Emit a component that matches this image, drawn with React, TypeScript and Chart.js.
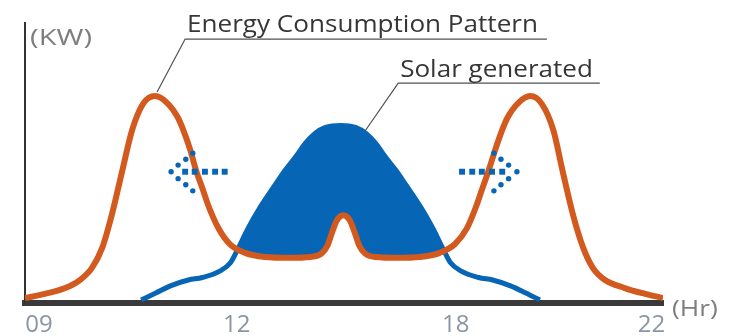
import React, { useEffect, useRef } from 'react';
import { Chart, registerables } from 'chart.js';

Chart.register(...registerables);

// ---- axis ticks (schematic time axis, 0..100 along the axis) ----
const xTickPositions = [2.2, 33.2, 67.5, 98.2];
const xTickLabels = ['09', '12', '18', '22'];

// ---- Energy consumption pattern ----
const consumptionX = [0, 3.1, 6.3, 8.6, 10.5, 12.1, 13.6, 15.2, 16.8, 18.5, 20.4, 22.3, 24.0, 24.8, 25.9, 26.8, 27.9, 28.7, 30.3, 32.1, 34.5, 37.6, 41.5, 44.7, 46.5, 47.4, 48.1, 48.8, 49.4, 49.9, 50.4, 51.0, 51.7, 52.4, 53.3, 55.0, 58.2, 61.9, 65.0, 67.4, 69.3, 70.8, 71.6, 72.7, 73.7, 74.8, 75.6, 77.3, 79.2, 81.0, 82.8, 84.3, 85.9, 87.5, 89.0, 90.9, 94.0, 97.2, 100];
const consumptionY = [0.7, 2.2, 4.3, 7.2, 11.6, 18.8, 30.7, 46.2, 61.4, 70.8, 73.6, 71.1, 65.7, 61.4, 54.2, 46.9, 39.7, 34.3, 26.0, 20.2, 17.0, 15.5, 15.2, 15.5, 16.8, 19.6, 24.2, 28.4, 30.2, 30.6, 30.2, 28.4, 24.2, 19.6, 16.8, 15.5, 15.2, 15.5, 17.0, 20.2, 26.0, 34.3, 39.7, 46.9, 54.2, 61.4, 65.7, 71.1, 73.6, 70.8, 61.4, 46.2, 30.7, 18.8, 11.6, 7.2, 4.3, 2.2, 0.7];

// ---- Solar generated ----
const solarX = [18.2, 20.5, 22.8, 25.6, 27.8, 30.6, 32.2, 33.3, 35.0, 36.9, 39.3, 40.8, 42.4, 44.0, 45.5, 47.1, 49.5, 51.8, 53.4, 54.9, 56.5, 58.1, 59.6, 62.0, 63.9, 65.6, 66.7, 68.3, 71.1, 73.3, 76.1, 78.5, 80.7];
const solarY = [0, 2.5, 5.1, 7.2, 8.1, 10.5, 13.4, 18.1, 26.0, 33.6, 41.9, 46.9, 51.6, 56.7, 60.2, 62.3, 63.0, 62.3, 60.2, 56.7, 51.6, 46.9, 41.9, 33.6, 26.0, 18.1, 13.4, 10.5, 8.1, 7.2, 5.1, 2.5, 0];

// ---- dotted shift arrows ----
const arrowShaftX = [25.1, 26.6, 28.2, 29.8, 31.3, 68.5, 70.1, 71.6, 73.2, 74.8];
const arrowShaftY = [46.3, 46.3, 46.3, 46.3, 46.3, 46.3, 46.3, 46.3, 46.3, 46.3];
const arrowHeadX = [22.9, 24.0, 25.2, 26.3, 24.0, 25.2, 26.3, 77.1, 75.8, 74.6, 73.5, 75.8, 74.6, 73.5];
const arrowHeadY = [46.3, 48.7, 50.8, 53.0, 43.8, 41.6, 39.4, 46.3, 48.7, 50.8, 53.0, 43.8, 41.6, 39.4];

// ---- callouts ----
const calloutTexts = ['Energy Consumption Pattern', 'Solar generated'];
const calloutTextX1 = [25.4, 58.8];
const calloutTextX2 = [80.4, 89.0];
const calloutTextY = [96.8, 80.5];
const calloutLineX1 = [25.1, 58.5];
const calloutLineX2 = [81.8, 90.1];
const calloutLineY = [94.2, 78.3];
const calloutPointX = [20.7, 53.3];
const calloutPointY = [75.1, 61.0];

const ORANGE = '#D35A1E';
const BLUE = '#0665B5';
const FONT = "'Open Sans', 'Noto Sans', sans-serif";

const zip = (xs: number[], ys: number[]) => xs.map((x, i) => ({ x, y: ys[i] }));

function drawFitted(ctx: CanvasRenderingContext2D, text: string, x1: number, x2: number, baseline: number, font: string, color: string) {
  ctx.save();
  ctx.font = font;
  const w = ctx.measureText(text).width;
  ctx.translate(x1, baseline);
  ctx.scale((x2 - x1) / w, 1);
  ctx.fillStyle = color;
  ctx.textBaseline = 'alphabetic';
  ctx.textAlign = 'left';
  ctx.fillText(text, 0, 0);
  ctx.restore();
}

const calloutPlugin = {
  id: 'callouts',
  afterDraw(chart: any) {
    const { ctx, scales } = chart;
    const x = scales.x;
    const y = scales.y;
    ctx.save();
    calloutTexts.forEach((t, i) => {
      const lx1 = x.getPixelForValue(calloutLineX1[i]);
      const lx2 = x.getPixelForValue(calloutLineX2[i]);
      const ly = y.getPixelForValue(calloutLineY[i]);
      const px = x.getPixelForValue(calloutPointX[i]);
      const py = y.getPixelForValue(calloutPointY[i]);
      ctx.strokeStyle = '#505050';
      ctx.lineWidth = 1.2;
      ctx.beginPath();
      ctx.moveTo(lx2, ly);
      ctx.lineTo(lx1, ly);
      ctx.lineTo(px, py);
      ctx.stroke();
      drawFitted(ctx, t, x.getPixelForValue(calloutTextX1[i]), x.getPixelForValue(calloutTextX2[i]), y.getPixelForValue(calloutTextY[i]), `23px ${FONT}`, '#363636');
    });
    // unit labels
    drawFitted(ctx, '(KW)', x.getPixelForValue(0.8), x.getPixelForValue(10.5), y.getPixelForValue(92.1), `22px ${FONT}`, '#7e7e7e');
    drawFitted(ctx, '(Hr)', x.getPixelForValue(101.4), x.getPixelForValue(108.6), y.getPixelForValue(-5.8), `22px ${FONT}`, '#7e7e7e');
    ctx.restore();
  },
};

export default function App() {
  const ref = useRef<HTMLCanvasElement>(null);
  useEffect(() => {
    if (!ref.current) return;
    const chart = new Chart(ref.current, {
      type: 'line',
      data: {
        datasets: [
          {
            label: 'arrow shaft',
            data: zip(arrowShaftX, arrowShaftY),
            showLine: false,
            pointStyle: 'rect',
            pointRadius: 4.2,
            pointBorderWidth: 0,
            pointBackgroundColor: BLUE,
            order: 0,
          },
          {
            label: 'arrow head',
            data: zip(arrowHeadX, arrowHeadY),
            showLine: false,
            pointStyle: 'circle',
            pointRadius: 2.7,
            pointBorderWidth: 0,
            pointBackgroundColor: BLUE,
            order: 0,
          },
          {
            label: 'Energy Consumption Pattern',
            data: zip(consumptionX, consumptionY),
            borderColor: ORANGE,
            borderWidth: 6,
            pointRadius: 0,
            cubicInterpolationMode: 'monotone',
            fill: false,
            order: 1,
          },
          {
            label: 'Solar generated',
            data: zip(solarX, solarY),
            borderColor: BLUE,
            borderWidth: 5,
            pointRadius: 0,
            cubicInterpolationMode: 'monotone',
            fill: { target: 2, above: BLUE, below: 'rgba(0,0,0,0)' },
            order: 2,
          },
        ],
      } as any,
      options: {
        animation: false,
        responsive: false,
        devicePixelRatio: 1,
        layout: { padding: { left: 25, top: 23, right: 72, bottom: 0 } },
        plugins: { legend: { display: false }, tooltip: { enabled: false } },
        events: [],
        scales: {
          x: {
            type: 'linear',
            min: 0,
            max: 100,
            grid: { display: false, drawTicks: false },
            border: { display: true, color: '#3a3a3a', width: 6 },
            afterBuildTicks: (s: any) => {
              s.ticks = xTickPositions.map((v) => ({ value: v }));
            },
            afterFit: (s: any) => {
              s.height = 33;
            },
            ticks: {
              autoSkip: false,
              maxRotation: 0,
              padding: 8,
              color: '#8b95a3',
              font: { family: FONT, size: 24 },
              callback: (_v: any, i: number) => xTickLabels[i],
            },
          },
          y: {
            type: 'linear',
            min: -1.1,
            max: 100,
            grid: { display: false, drawTicks: false },
            border: { display: true, color: '#333333', width: 2 },
            ticks: { display: false },
            afterFit: (s: any) => {
              s.width = 0;
            },
          },
        },
      } as any,
      plugins: [calloutPlugin],
    });
    return () => chart.destroy();
  }, []);
  return (
    <div style={{ position: 'fixed', left: 0, top: 0, width: 735, height: 336, background: '#ffffff' }}>
      <canvas ref={ref} width={735} height={336} style={{ display: 'block', width: 735, height: 336 }} />
    </div>
  );
}
